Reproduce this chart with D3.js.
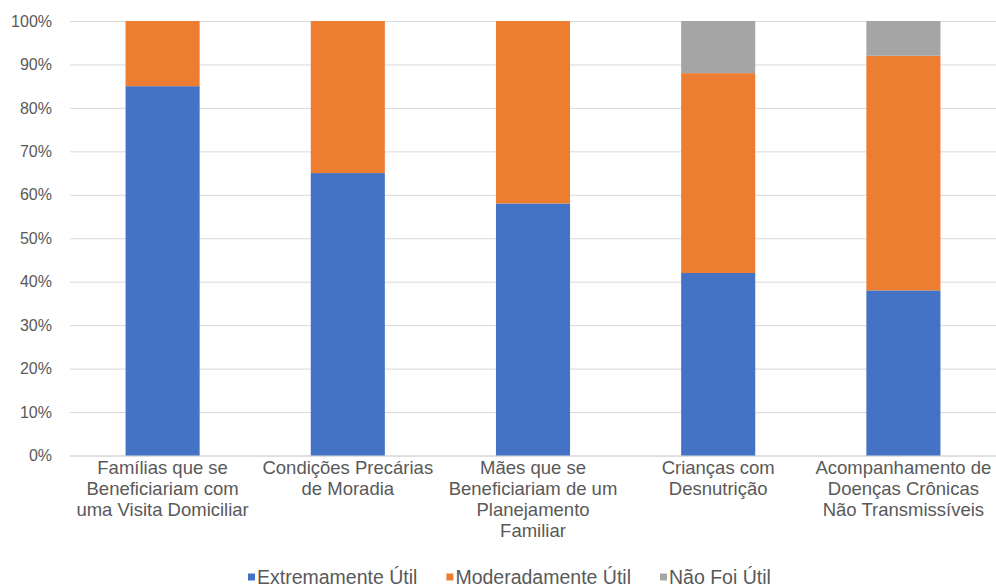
<!DOCTYPE html>
<html>
<head>
<meta charset="utf-8">
<script src="https://cdn.jsdelivr.net/npm/d3@7"></script>
<style>
  html, body { margin: 0; padding: 0; background: #fff; }
  svg { display: block; }
  svg text { font-family: "Liberation Sans", Arial, sans-serif; }
</style>
</head>
<body>
<svg id="chart" width="996" height="587"></svg>
<script>
// Categories, each split into the lines shown under its bar
const categories = [
  ["Famílias que se", "Beneficiariam com", "uma Visita Domiciliar"],
  ["Condições Precárias", "de Moradia"],
  ["Mães que se", "Beneficiariam de um", "Planejamento", "Familiar"],
  ["Crianças com", "Desnutrição"],
  ["Acompanhamento de", "Doenças Crônicas", "Não Transmissíveis"]
];

// Shares per category (percent)
const extremamenteUtil = [85, 65, 58, 42, 38];
const moderadamenteUtil = [15, 35, 42, 46, 54];
const naoFoiUtil = [0, 0, 0, 12, 8];

const seriesNames = ["Extremamente Útil", "Moderadamente Útil", "Não Foi Útil"];
const seriesColors = ["#4472C4", "#ED7D31", "#A5A5A5"];
const yTicks = [0, 10, 20, 30, 40, 50, 60, 70, 80, 90, 100];

const FONT = '"Liberation Sans", Arial, sans-serif';
const TEXT_COLOR = "#595959";

const svg = d3.select("#chart");
const plot = { left: 70, right: 996, top: 21, bottom: 455.5 };

const x = d3.scaleBand()
  .domain(d3.range(categories.length))
  .range([plot.left, plot.right])
  .paddingInner(0.6)
  .paddingOuter(0.3);

const y = d3.scaleLinear().domain([0, 100]).range([plot.bottom, plot.top]);

// Horizontal gridlines with percentage labels
const yAxis = d3.axisLeft(y)
  .tickValues(yTicks)
  .tickFormat(d => d + "%")
  .tickSize(-(plot.right - plot.left))
  .tickPadding(18);

const gy = svg.append("g")
  .attr("transform", `translate(${plot.left},0)`)
  .call(yAxis)
  .attr("font-family", FONT)
  .attr("font-size", 16);
gy.select(".domain").remove();
gy.selectAll(".tick line")
  .attr("stroke", d => d === 0 ? "#BFBFBF" : "#D9D9D9")
  .attr("stroke-width", 1);
gy.selectAll(".tick text").attr("fill", TEXT_COLOR);

// Stacked bars
const rows = categories.map((c, i) => ({
  idx: i,
  "Extremamente Útil": extremamenteUtil[i],
  "Moderadamente Útil": moderadamenteUtil[i],
  "Não Foi Útil": naoFoiUtil[i]
}));
const stacked = d3.stack().keys(seriesNames)(rows);

svg.append("g").selectAll("g")
  .data(stacked)
  .join("g")
  .attr("fill", (d, i) => seriesColors[i])
  .selectAll("rect")
  .data(d => d.filter(s => s[1] > s[0]))
  .join("rect")
  .attr("x", d => x(d.data.idx))
  .attr("width", x.bandwidth())
  .attr("y", d => y(d[1]))
  .attr("height", d => y(d[0]) - y(d[1]));

// Category labels below the axis
const xAxis = d3.axisBottom(x).tickSize(0).tickFormat("");
const gx = svg.append("g")
  .attr("transform", `translate(0,${plot.bottom})`)
  .call(xAxis)
  .attr("font-family", FONT)
  .attr("font-size", 18.5);
gx.select(".domain").remove();
gx.selectAll(".tick").each(function(i) {
  const t = d3.select(this).append("text")
    .attr("fill", TEXT_COLOR)
    .attr("text-anchor", "middle");
  categories[i].forEach((line, k) => {
    t.append("tspan")
      .attr("x", 0)
      .attr("y", 18 + k * 21.3)
      .text(line);
  });
});

// Legend: square swatch followed by series name, laid out left to right
const legend = svg.append("g")
  .attr("transform", "translate(0,577)")
  .attr("font-family", FONT)
  .attr("font-size", 19.5);
let cursor = 248;
seriesNames.forEach((name, i) => {
  const item = legend.append("g").attr("transform", `translate(${cursor},0)`);
  item.append("rect")
    .attr("x", 0).attr("y", -3.5)
    .attr("width", 7).attr("height", 7)
    .attr("fill", seriesColors[i]);
  const label = item.append("text")
    .attr("x", 9).attr("y", 0)
    .attr("dy", "0.35em")
    .attr("fill", TEXT_COLOR)
    .text(name);
  cursor += 9 + label.node().getComputedTextLength() + 29;
});
</script>
</body>
</html>
